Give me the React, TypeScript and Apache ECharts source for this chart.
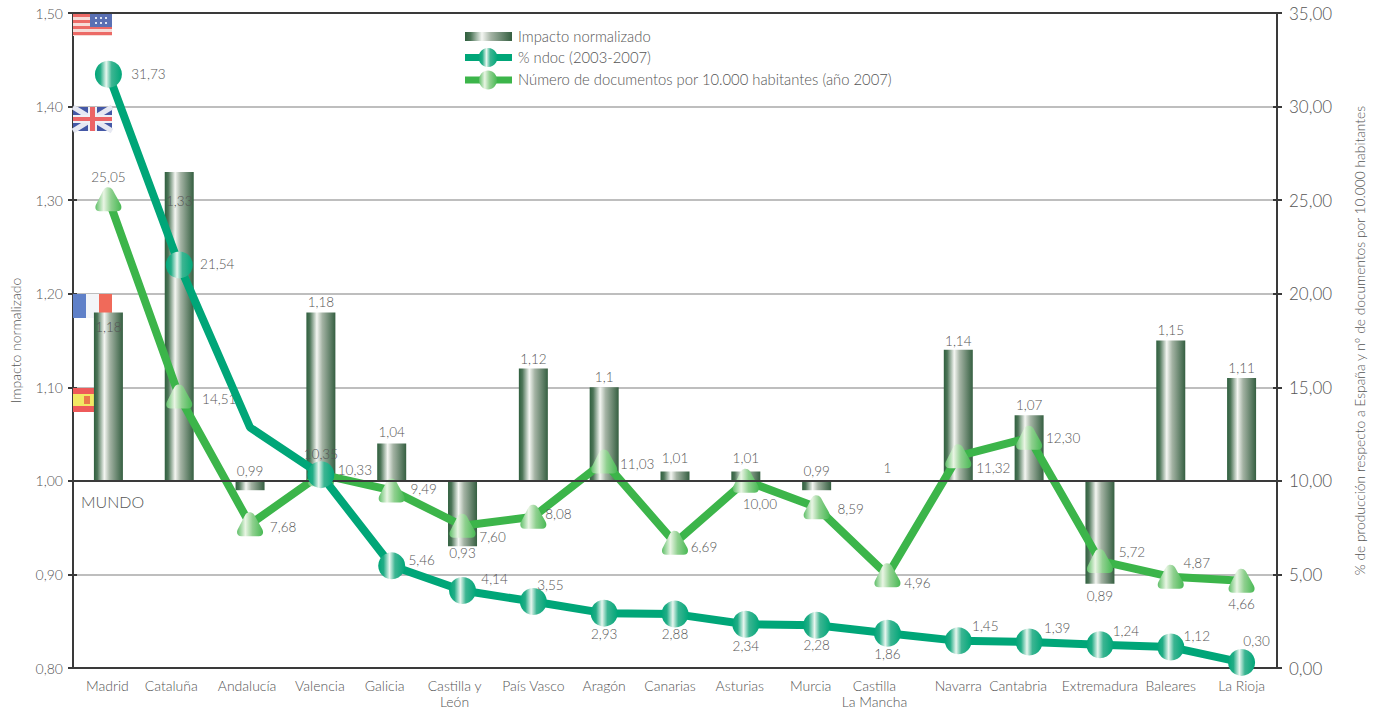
import React, { useEffect, useRef } from "react";
import * as echarts from "echarts";

const categories = ["Madrid","Cataluña","Andalucía","Valencia","Galicia","Castilla y\nLeón","País Vasco","Aragón","Canarias","Asturias","Murcia","Castilla\nLa Mancha","Navarra","Cantabria","Extremadura","Baleares","La Rioja"];
const impacto = [1.18,1.33,0.99,1.18,1.04,0.93,1.12,1.1,1.01,1.01,0.99,1,1.14,1.07,0.89,1.15,1.11];
const ndoc = [31.73,21.54,12.85,10.33,5.46,4.14,3.55,2.93,2.88,2.34,2.28,1.86,1.45,1.39,1.24,1.12,0.30];
const docsHab = [25.05,14.51,7.68,10.35,9.49,7.60,8.08,11.03,6.69,10.00,8.59,4.96,11.32,12.30,5.72,4.87,4.66];

// label placement, separate from the values
const categoryShift = [1,8,3,1,7,8,0,0,5,6,6,13,0,11,0,0,0];
const impactoLabelDy = [15,29,-19,-10,-11,7,-10,-10,-14,-14,-19,-13,-9,-10,12,-11,-10];
const ndocLabelOffset = [[40,0],[38,-1],[19,-39],[34,-5],[30,-6],[32,-12],[17,-17],[0,21],[0,20],[0,22],[0,20],[0,21],[27,-15],[28,-14],[26,-14],[26,-11],[15,-21]];
const docsLabelOffset = [[0,-22],[40,3],[33,3],[0,-20],[32,-1],[30,11],[25,-3],[33,2],[29,4],[14,23],[34,2],[30,8],[35,12],[34,0],[32,-9],[26,-14],[0,23]];

const FONT = "Lato";
const TEXT = "#555555";
const AXIS = "#3a3a3a";
const GREEN_DARK = "#00a678";
const GREEN = "#3cb54a";
const TRI = "path://M12 0C16 0 17 3 19 7L24 16C26 19 26 24 21 24L4 24C-1 24-1 19 1 16L6 6C8 2 9 0 12 0Z";

const comma = (v: number, d?: number) => (d === undefined ? String(v) : v.toFixed(d)).replace(".", ",");
const grad = (stops: [number, string][]) =>
  new echarts.graphic.LinearGradient(0, 0, 1, 0, stops.map(([offset, color]) => ({ offset, color })));
const barFill = () => grad([[0,"#2f5f3e"],[0.12,"#4d7558"],[0.36,"#f4f6f2"],[0.55,"#a4b3a4"],[1,"#355f41"]]);
const circleFill = () => grad([[0,GREEN_DARK],[0.2,"#22ad86"],[0.42,"#e8f6ef"],[0.62,"#3cb592"],[1,GREEN_DARK]]);
const triFill = () => grad([[0,"#5fbf68"],[0.32,"#e9f5e4"],[0.6,"#8fd08f"],[1,"#48b954"]]);

const flags = (): any[] => {
  const x = 73, w = 39;
  const out: any[] = [];
  const rect = (rx: number, ry: number, rw: number, rh: number, fill: string) =>
    out.push({ type: "rect", z: 1, silent: true, shape: { x: rx, y: ry, width: rw, height: rh }, style: { fill } });
  const line = (x1: number, y1: number, x2: number, y2: number, stroke: string, lineWidth: number) =>
    out.push({ type: "line", z: 1, silent: true, shape: { x1, y1, x2, y2 }, style: { stroke, lineWidth } });
  // USA
  rect(x, 13, w, 23, "#f6dcd8");
  [13, 19, 25, 31].forEach((y) => rect(x, y + 1, w, 3, "#ec6a66"));
  rect(x + 17, 13, 22, 14, "#5a70b4");
  [17, 22].forEach((y) => [22, 27, 32].forEach((dx) => rect(x + dx, y, 2, 2, "#dfe4f2")));
  // UK
  rect(x, 107, w, 24, "#4458a6");
  line(x, 107, x + w, 131, "#e6e8f2", 5);
  line(x + w, 107, x, 131, "#e6e8f2", 5);
  rect(x + 15, 107, 9, 24, "#eef0f6");
  rect(x, 115, w, 8, "#eef0f6");
  rect(x + 17, 107, 5, 24, "#ec6466");
  rect(x, 117, w, 4, "#ec6466");
  // France
  rect(x, 294, 13, 24, "#5f80c8");
  rect(x + 13, 294, 13, 24, "#f3f5f8");
  rect(x + 26, 294, 13, 24, "#f06a5a");
  // Spain
  rect(x, 388, w, 24, "#ee5a5a");
  rect(x, 394, w, 12, "#f1e964");
  rect(x + 11, 396, 6, 8, "#ea7a4a");
  return out;
};

const legendGraphics = (): any[] => {
  const lx = 465, lw = 47, tx = 518;
  const t = (y: number, text: string) => ({
    type: "text", z: 20, silent: true, x: tx, y,
    style: { text, fill: TEXT, font: `300 14.8px ${FONT}`, verticalAlign: "middle", align: "left" },
  });
  return [
    { type: "rect", z: 20, silent: true, shape: { x: lx, y: 32, width: lw, height: 9 }, style: { fill: barFill() } },
    t(36, "Impacto normalizado"),
    { type: "line", z: 20, silent: true, shape: { x1: lx, y1: 57.5, x2: lx + lw, y2: 57.5 }, style: { stroke: GREEN_DARK, lineWidth: 7 } },
    { type: "circle", z: 20, silent: true, shape: { cx: lx + 23, cy: 57.5, r: 9.5 }, style: { fill: circleFill() } },
    t(57, "% ndoc (2003-2007)"),
    { type: "line", z: 20, silent: true, shape: { x1: lx, y1: 80, x2: lx + lw, y2: 80 }, style: { stroke: GREEN, lineWidth: 7 } },
    { type: "ellipse", z: 20, silent: true, shape: { cx: lx + 23, cy: 80, rx: 9, ry: 9.5 }, style: { fill: triFill() } },
    t(79, "Número de documentos por 10.000 habitantes (año 2007)"),
    { type: "text", z: 20, silent: true, x: 81, y: 501, style: { text: "MUNDO", fill: TEXT, font: `300 16px ${FONT}`, verticalAlign: "middle" } },
  ];
};

const labelStyle = { color: TEXT, fontFamily: FONT, fontWeight: 300 as any, fontSize: 13.5 };

const yAxisBase = (min: number, max: number, interval: number) => ({
  type: "value", min, max, interval,
  axisLine: { show: true, onZero: false, lineStyle: { color: AXIS, width: 2 } },
  axisTick: { show: true, length: 5, lineStyle: { color: AXIS, width: 2 } },
  splitLine: { show: false },
});

function option(): any {
  const lineData = (values: number[], offsets: number[][], hideAt: number[]) =>
    values.map((value, i) => ({
      value,
      ...(hideAt.includes(i) ? { symbol: "none" } : {}),
      label: { show: true, position: "inside", offset: offsets[i], formatter: comma(value, 2), ...labelStyle },
    }));
  return {
    animation: false,
    backgroundColor: "#ffffff",
    textStyle: { fontFamily: FONT },
    grid: { left: 73, right: 100, top: 13, bottom: 42, outerBoundsMode: "none", containLabel: false },
    graphic: { elements: [...flags(), ...legendGraphics()] },
    xAxis: {
      type: "category",
      data: categories,
      axisLine: { lineStyle: { color: AXIS, width: 2 } },
      axisTick: { show: false },
      axisLabel: {
        interval: 0,
        margin: 9,
        lineHeight: 16,
        formatter: (v: string) => {
          const i = categories.indexOf(v);
          return v.split("\n").map((s) => `{c${i}|${s}}`).join("\n");
        },
        rich: Object.fromEntries(categoryShift.map((s, i) => [`c${i}`, {
          color: TEXT, fontFamily: FONT, fontWeight: 300, fontSize: 14, lineHeight: 16,
          padding: [0, s * 2, 0, 0],
        }])),
      },
    },
    yAxis: [
      {
        ...yAxisBase(0.8, 1.5, 0.1),
        position: "left",
        name: "Impacto normalizado",
        nameLocation: "middle",
        nameGap: 51,
        nameTextStyle: { color: TEXT, fontFamily: FONT, fontWeight: 300, fontSize: 14 },
        axisLabel: { color: TEXT, fontFamily: FONT, fontWeight: 300, fontSize: 14, margin: 10, formatter: (v: number) => comma(v, 2) },
        splitLine: { show: true, lineStyle: { color: "#a8a8a8", width: 1.5 } },
      },
      {
        ...yAxisBase(0, 35, 5),
        position: "right",
        name: "% de producción respecto a España y nº de documentos por 10.000 habitantes",
        nameLocation: "middle",
        nameRotate: 90,
        nameGap: 75,
        nameTextStyle: { color: TEXT, fontFamily: FONT, fontWeight: 300, fontSize: 13.8 },
        axisLabel: { color: TEXT, fontFamily: FONT, fontWeight: 300, fontSize: 17, margin: 12, formatter: (v: number) => comma(v, 2) },
      },
      {
        ...yAxisBase(0.8, 1.5, 0.1),
        position: "left",
        axisLabel: { show: false },
        axisTick: { show: true, inside: true, length: 4, lineStyle: { color: AXIS, width: 2 } },
      },
      {
        ...yAxisBase(0, 35, 5),
        position: "right",
        axisLabel: { show: false },
        axisTick: { show: true, inside: true, length: 4, lineStyle: { color: AXIS, width: 2 } },
      },
    ],
    series: [
      {
        name: "Impacto normalizado",
        type: "custom",
        yAxisIndex: 0,
        z: 3,
        encode: { x: 0, y: 1 },
        data: impacto.map((v, i) => [i, v]),
        renderItem: (_p: any, api: any) => {
          const i = api.value(0);
          const v = api.value(1);
          const base = api.coord([i, 1]);
          const tip = api.coord([i, v]);
          const w = 29;
          return {
            type: "group",
            children: [
              {
                type: "rect",
                shape: { x: base[0] - w / 2, y: Math.min(base[1], tip[1]), width: w, height: Math.abs(base[1] - tip[1]) },
                style: { fill: barFill() },
              },
              {
                type: "text",
                x: base[0],
                y: tip[1] + impactoLabelDy[i],
                z2: 50,
                style: { text: comma(v), fill: TEXT, font: `300 13.5px ${FONT}`, align: "center", verticalAlign: "middle" },
              },
            ],
          };
        },
      },
      {
        name: "Número de documentos por 10.000 habitantes (año 2007)",
        type: "line",
        yAxisIndex: 1,
        z: 4,
        symbol: TRI,
        symbolSize: [26, 24],
        lineStyle: { color: GREEN, width: 8 },
        itemStyle: { color: triFill() },
        data: lineData(docsHab, docsLabelOffset, []),
      },
      {
        name: "% ndoc (2003-2007)",
        type: "line",
        yAxisIndex: 1,
        z: 5,
        symbol: "circle",
        symbolSize: 27,
        lineStyle: { color: GREEN_DARK, width: 8 },
        itemStyle: { color: circleFill() },
        data: lineData(ndoc, ndocLabelOffset, [2]),
        markLine: {
          silent: true,
          symbol: "none",
          label: { show: false },
          lineStyle: { color: AXIS, width: 2, type: "solid" },
          data: [{ yAxis: 10 }, { yAxis: 35 }],
        },
      },
    ],
  };
}

export default function App() {
  const ref = useRef<HTMLDivElement>(null);
  useEffect(() => {
    const chart = echarts.init(ref.current!, undefined, { renderer: "svg" });
    chart.setOption(option());
    return () => chart.dispose();
  }, []);
  return <div ref={ref} style={{ position: "absolute", left: 0, top: 0, width: 1377, height: 710 }} />;
}
